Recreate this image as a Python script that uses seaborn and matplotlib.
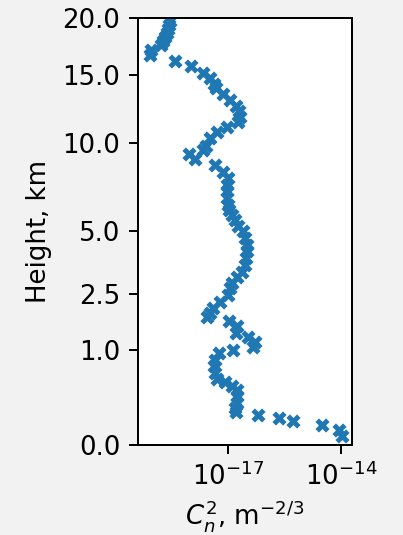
import numpy as np
import pandas as pd
import matplotlib
matplotlib.use("Agg")
import matplotlib.pyplot as plt
from matplotlib.ticker import FixedLocator, FormatStrFormatter, NullLocator
import seaborn as sns

# Refractive-index structure constant profile: log10(Cn^2 [m^-2/3]) vs height [km]
log_cn2 = [
    -18.536, -18.557, -18.575, -18.602, -18.646, -18.707, -18.768, -19.016,
    -19.058, -18.391, -17.960, -17.652, -17.480, -17.375, -17.309, -17.137,
    -16.953, -16.781, -16.715, -16.675, -16.741, -17.032, -17.296, -17.467,
    -17.586, -17.652, -18.013, -17.863, -17.335, -17.124, -17.005, -17.011,
    -17.026, -17.026, -17.000, -16.958, -16.894, -16.807, -16.720, -16.604,
    -16.544, -16.499, -16.499, -16.517, -16.544, -16.631, -16.763, -16.894,
    -16.939, -16.984, -17.203, -17.380, -17.467, -17.538, -16.958, -16.763,
    -16.781, -16.456, -16.280, -16.340, -16.852, -17.222, -17.335, -17.361,
    -17.335, -17.274, -17.071, -16.894, -16.763, -16.747, -16.763, -16.807,
    -16.781, -16.208, -15.646, -15.285, -14.520, -14.055, -13.992,
]
height_km = [
    19.71, 19.34, 18.97, 18.61, 18.25, 17.90, 17.54, 17.11,
    16.68, 16.17, 15.75, 15.21, 14.77, 14.33, 13.97, 13.51,
    13.05, 12.60, 12.20, 11.83, 11.47, 11.09, 10.74, 10.33,
    9.80, 9.54, 9.28, 9.00, 8.60, 8.20, 7.82, 7.41,
    7.05, 6.69, 6.32, 6.06, 5.80, 5.55, 5.26, 5.00,
    4.70, 4.39, 4.11, 3.83, 3.55, 3.30, 3.09, 2.88,
    2.69, 2.47, 2.24, 2.07, 1.91, 1.80, 1.69, 1.55,
    1.38, 1.27, 1.16, 1.06, 0.99, 0.92, 0.79, 0.68,
    0.57, 0.48, 0.44, 0.38, 0.33, 0.26, 0.19, 0.15,
    0.12, 0.10, 0.083, 0.063, 0.042, 0.025, 0.0089,
]
y_ticks = [0.0, 1.0, 2.5, 5.0, 10.0, 15.0, 20.0]
x_ticks = [1e-17, 1e-14]

df = pd.DataFrame({"cn2": 10.0 ** np.array(log_cn2), "h": height_km})

plt.rcParams["font.size"] = 10.4
plt.rcParams["xtick.major.size"] = 3.6
plt.rcParams["ytick.major.size"] = 3.6

dpi = 180
fig = plt.figure(figsize=(403 / dpi, 535 / dpi), dpi=dpi, facecolor="#f2f2f2")
ax = fig.add_axes([0.3424, 0.1682, 0.5310, 0.7982])
ax.set_facecolor("white")

sns.scatterplot(data=df, x="cn2", y="h", marker="X", s=32, color="#1f77b4",
                linewidth=0, ax=ax)

ax.set_xscale("log")
ax.set_xlim(10 ** -19.37, 10 ** -13.72)
ax.xaxis.set_major_locator(FixedLocator(x_ticks))
ax.xaxis.set_minor_locator(NullLocator())

ax.set_yscale("function",
              functions=(lambda v: np.sqrt(np.clip(v, 0, None)), np.square))
ax.set_ylim(0, 20)
ax.yaxis.set_major_locator(FixedLocator(y_ticks))
ax.yaxis.set_major_formatter(FormatStrFormatter("%.1f"))
ax.yaxis.set_minor_locator(NullLocator())

ax.set_xlabel(r"$C_n^2$, m$^{-2/3}$", labelpad=2.5)
ax.set_ylabel("Height, km")

fig.savefig("out.png", dpi=dpi, facecolor=fig.get_facecolor())
